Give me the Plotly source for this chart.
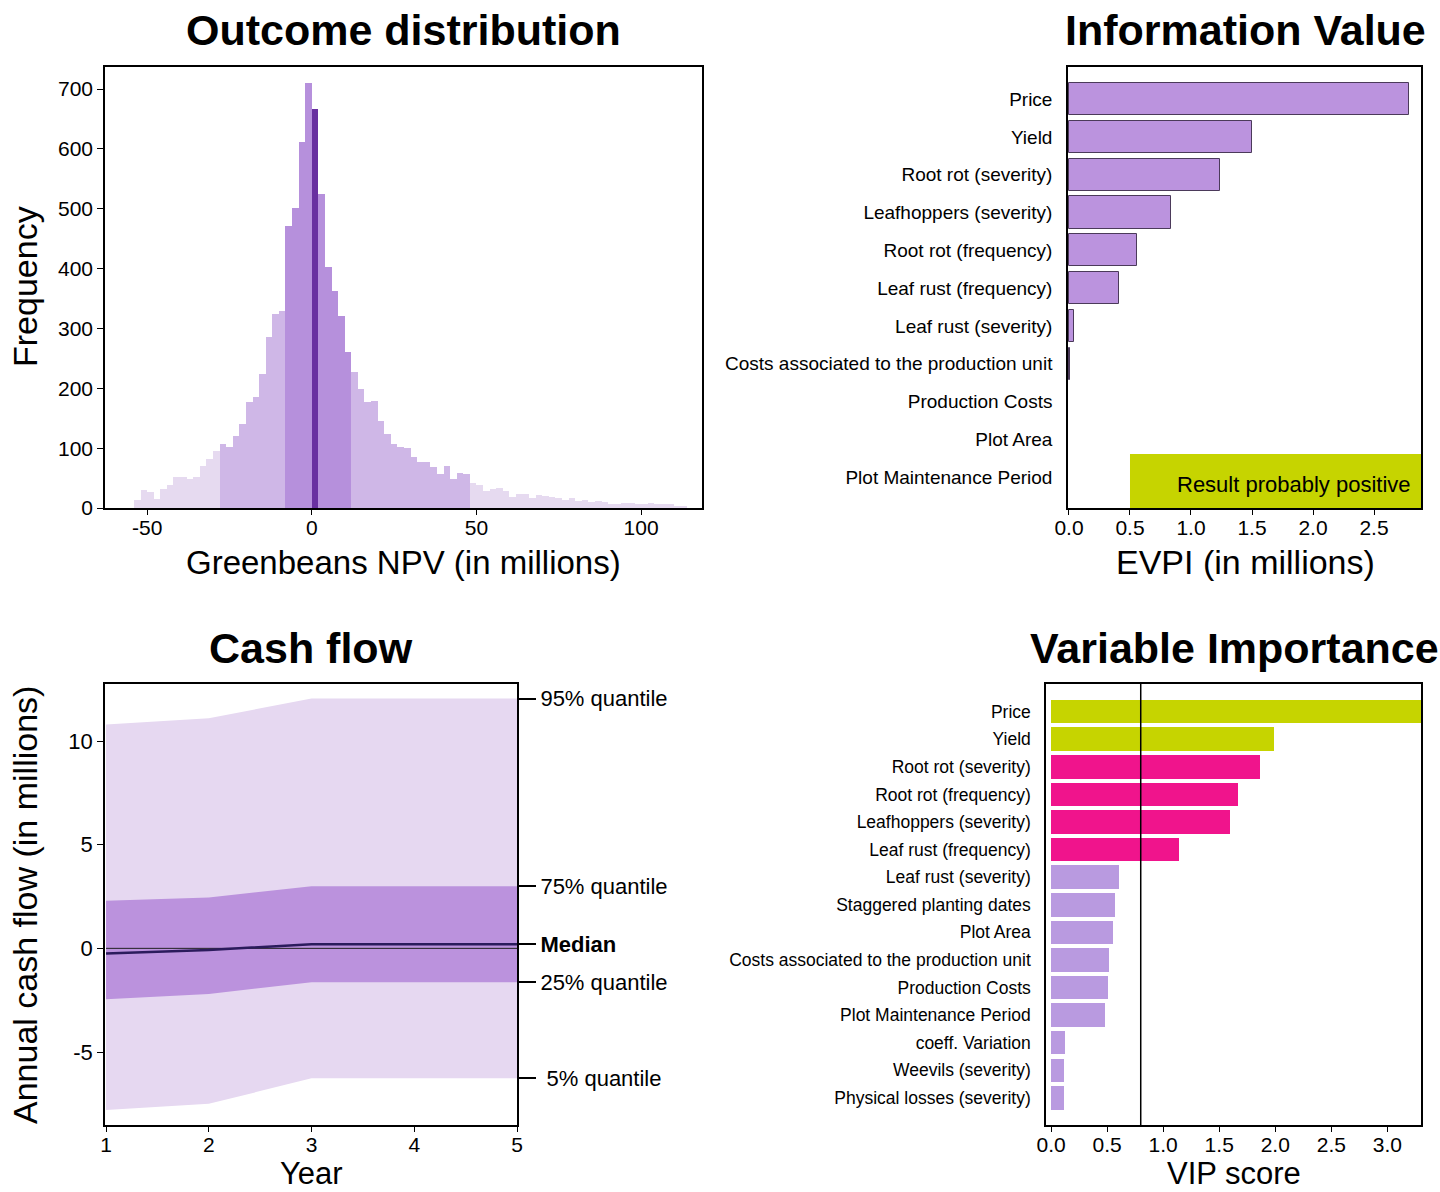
import plotly.graph_objects as go

W, H = 1440, 1192

# ---------------- Outcome distribution (NPV histogram, 2 M bins) ----------------
npv_bin_width = 2
npv_bin_starts = list(range(-54, 114, 2))
npv_counts = [
    13, 30, 27, 15, 32, 38, 52, 52, 48, 52, 70, 82, 96, 107, 102, 121, 140, 177,
    185, 224, 285, 324, 329, 471, 502, 611, 710,
    667, 525, 402, 363, 321, 260, 227, 199, 177, 179, 146, 124, 107, 102, 100, 85,
    77, 77, 68, 57, 70, 49, 59, 57, 41, 39, 29, 31, 33, 29, 18, 24, 24, 16, 21, 20,
    18, 16, 13, 17, 11, 13, 10, 11, 10, 7, 6, 9, 9, 7, 7, 8, 7, 6, 7, 4, 3,
]
npv_q05, npv_q25, npv_median, npv_q75, npv_q95 = -28, -8, 0, 12, 48
npv_ticks = [-50, 0, 50, 100]

# ---------------- Information value (EVPI) ----------------
evpi_labels = [
    "Price", "Yield", "Root rot (severity)", "Leafhoppers (severity)",
    "Root rot (frequency)", "Leaf rust (frequency)", "Leaf rust (severity)",
    "Costs associated to the production unit", "Production Costs", "Plot Area",
    "Plot Maintenance Period",
]
evpi_values = [2.785, 1.50, 1.24, 0.834, 0.555, 0.408, 0.042, 0.008, 0.0, 0.0, 0.0]
evpi_positive_from = 0.5

# ---------------- Cash flow quantiles ----------------
years = [1, 2, 3, 4, 5]
cf_q95 = [10.8, 11.1, 12.05, 12.05, 12.05]
cf_q75 = [2.3, 2.45, 3.0, 3.0, 3.0]
cf_median = [-0.25, -0.08, 0.2, 0.2, 0.2]
cf_q25 = [-2.45, -2.2, -1.63, -1.63, -1.63]
cf_q05 = [-7.8, -7.5, -6.27, -6.27, -6.27]
cf_quantile_names = ["95% quantile", "75% quantile", "<b>Median</b>", "25% quantile", "\u00a05% quantile"]
cf_ticks = [-5, 0, 5, 10]

# ---------------- Variable importance (VIP) ----------------
vip_labels = [
    "Price", "Yield", "Root rot (severity)", "Root rot (frequency)",
    "Leafhoppers (severity)", "Leaf rust (frequency)", "Leaf rust (severity)",
    "Staggered planting dates", "Plot Area", "Costs associated to the production unit",
    "Production Costs", "Plot Maintenance Period", "coeff. Variation",
    "Weevils (severity)", "Physical losses (severity)",
]
vip_values = [3.30, 1.99, 1.86, 1.67, 1.60, 1.145, 0.61, 0.57, 0.55, 0.52, 0.51, 0.48, 0.12, 0.115, 0.115]
vip_direction = ["+", "+", "-", "-", "-", "-", "-", "+", "+", "-", "-", "+", "+", "-", "-"]
vip_threshold = 0.8

# ---------------- styling ----------------
FONT = "Liberation Sans, Arial, Helvetica, sans-serif"
PALE, LIGHT, MED, DARK = "#e6daf0", "#cfb7e7", "#b690dc", "#6930a0"
BAND_OUT, BAND_IN, MEDIAN_LINE = "#e6d8f1", "#bb92dd", "#2b1b5c"
EVPI_FILL, EVPI_EDGE = "#bb93de", "#4b3a5a"
GREEN, MAGENTA, LAVENDER = "#c6d400", "#f0148c", "#b99ae0"


def px_x(p):
    return p / W


def px_y(p):
    return 1 - p / H


def npv_color(left):
    if left == npv_median:
        return DARK
    if npv_q25 <= left < npv_q75:
        return MED
    if npv_q05 <= left < npv_q95:
        return LIGHT
    return PALE


def vip_color(v, d):
    if v < vip_threshold:
        return LAVENDER
    return GREEN if d == "+" else MAGENTA


def hyphen_labels(vals):
    return [str(v).replace("\u2212", "-") for v in vals]


fig = go.Figure()

# Histogram
fig.add_trace(go.Bar(
    x=[s + npv_bin_width / 2 for s in npv_bin_starts], y=npv_counts, width=npv_bin_width,
    marker=dict(color=[npv_color(s) for s in npv_bin_starts], line=dict(width=0)),
    xaxis="x", yaxis="y", showlegend=False,
))

# EVPI bars (no outline on empty bars)
fig.add_trace(go.Bar(
    y=evpi_labels, x=evpi_values, orientation="h", width=0.85,
    marker=dict(color=EVPI_FILL,
                line=dict(color=EVPI_EDGE, width=[1 if v > 0 else 0 for v in evpi_values])),
    xaxis="x2", yaxis="y2", showlegend=False,
))

# Cash flow bands
fig.add_trace(go.Scatter(x=years, y=cf_q05, mode="lines", line=dict(width=0),
                         xaxis="x3", yaxis="y3", showlegend=False, hoverinfo="skip"))
fig.add_trace(go.Scatter(x=years, y=cf_q95, mode="lines", line=dict(width=0), fill="tonexty",
                         fillcolor=BAND_OUT, xaxis="x3", yaxis="y3", showlegend=False))
fig.add_trace(go.Scatter(x=years, y=cf_q25, mode="lines", line=dict(width=0),
                         xaxis="x3", yaxis="y3", showlegend=False, hoverinfo="skip"))
fig.add_trace(go.Scatter(x=years, y=cf_q75, mode="lines", line=dict(width=0), fill="tonexty",
                         fillcolor=BAND_IN, xaxis="x3", yaxis="y3", showlegend=False))
fig.add_trace(go.Scatter(x=[years[0], years[-1]], y=[0, 0], mode="lines",
                         line=dict(color="#222222", width=1), xaxis="x3", yaxis="y3",
                         showlegend=False, hoverinfo="skip"))
fig.add_trace(go.Scatter(x=years, y=cf_median, mode="lines", line=dict(color=MEDIAN_LINE, width=2.5),
                         xaxis="x3", yaxis="y3", showlegend=False))
# invisible trace so the right-hand quantile axis is drawn
fig.add_trace(go.Scatter(x=[years[-1]], y=[cf_median[-1]], mode="markers", marker=dict(opacity=0),
                         xaxis="x3", yaxis="y5", showlegend=False, hoverinfo="skip"))

# VIP bars
fig.add_trace(go.Bar(
    y=vip_labels, x=vip_values, orientation="h", width=0.85,
    marker=dict(color=[vip_color(v, d) for v, d in zip(vip_values, vip_direction)], line=dict(width=0)),
    xaxis="x4", yaxis="y4", showlegend=False,
))

axis_common = dict(showline=True, mirror=True, linecolor="black", linewidth=1.5,
                   ticks="outside", ticklen=6, tickcolor="black", tickwidth=1.2,
                   showgrid=False, zeroline=False, automargin=False,
                   tickfont=dict(family=FONT, size=21, color="black"))
x_common = {**axis_common, "ticklen": 5, "ticklabelstandoff": -5}

# panel geometry (pixels)
p1 = dict(x0=105, x1=702, y0=67, y1=508)
p2 = dict(x0=1068, x1=1421, y0=67, y1=508)
p3 = dict(x0=105, x1=517, y0=684, y1=1125)
p4 = dict(x0=1046, x1=1421, y0=684, y1=1125)


def dom(p):
    return [px_x(p["x0"]), px_x(p["x1"])], [px_y(p["y1"]), px_y(p["y0"])]


d1x, d1y = dom(p1)
d2x, d2y = dom(p2)
d3x, d3y = dom(p3)
d4x, d4y = dom(p4)

fig.update_layout(
    width=W, height=H, margin=dict(l=0, r=0, t=0, b=0, autoexpand=False),
    paper_bgcolor="white", plot_bgcolor="white",
    font=dict(family=FONT, color="black"),
    showlegend=False, bargap=0,
    xaxis=dict(domain=d1x, anchor="y", range=[-62.8, 118.5], tickvals=npv_ticks,
               ticktext=hyphen_labels(npv_ticks), **x_common),
    yaxis=dict(domain=d1y, anchor="x", range=[0, 737], tickvals=list(range(0, 701, 100)), **axis_common),
    xaxis2=dict(domain=d2x, anchor="y2", range=[-0.008, 2.885], tickvals=[0, 0.5, 1, 1.5, 2, 2.5],
                tickformat=".1f", **x_common),
    yaxis2=dict(domain=d2y, anchor="x2", type="category", categoryorder="array",
                categoryarray=list(reversed(evpi_labels)), range=[-0.82, 10.85],
                **{**axis_common, "ticks": "", "tickfont": dict(family=FONT, size=19, color="black")},
                ticklabelstandoff=10),
    xaxis3=dict(domain=d3x, anchor="y3", range=[0.99, 5.0], tickvals=years, **x_common),
    yaxis3=dict(domain=d3y, anchor="x3", range=[-8.52, 12.75], tickvals=cf_ticks,
                ticktext=hyphen_labels(cf_ticks),
                **{**axis_common, "tickfont": dict(family=FONT, size=22, color="black")}),
    yaxis5=dict(domain=d3y, anchor="x3", overlaying="y3", side="right", range=[-8.52, 12.75],
                tickmode="array",
                tickvals=[cf_q95[-1], cf_q75[-1], cf_median[-1], cf_q25[-1], cf_q05[-1]],
                ticktext=cf_quantile_names, ticks="outside", ticklen=18, tickcolor="black",
                tickwidth=1.5, showline=False, showgrid=False, zeroline=False, automargin=False,
                tickfont=dict(family=FONT, size=22, color="black")),
    xaxis4=dict(domain=d4x, anchor="y4", range=[-0.045, 3.30], tickvals=[0, 0.5, 1, 1.5, 2, 2.5, 3],
                tickformat=".1f", **x_common),
    yaxis4=dict(domain=d4y, anchor="x4", type="category", categoryorder="array",
                categoryarray=list(reversed(vip_labels)), range=[-0.98, 15.0],
                **{**axis_common, "ticks": "", "tickfont": dict(family=FONT, size=17.5, color="black")},
                ticklabelstandoff=10),
)

# "Result probably positive" region in the EVPI panel
fig.add_shape(type="rect", xref="x2", yref="y2 domain", x0=evpi_positive_from, x1=2.885,
              y0=0, y1=54 / 441, fillcolor=GREEN, line=dict(width=0), layer="below")
fig.add_annotation(xref="x2 domain", yref="y2 domain", x=0.977, y=24 / 441, xanchor="right",
                   yanchor="middle", text="Result probably positive", showarrow=False,
                   font=dict(family=FONT, size=22, color="black"))

# VIP threshold line
fig.add_shape(type="line", xref="x4", yref="y4 domain", x0=vip_threshold, x1=vip_threshold,
              y0=0, y1=1, line=dict(color="black", width=1.5), layer="above")

# Panel titles and axis titles
titles = [
    ("<b>Outcome distribution</b>", 403, 30, 43, 0),
    ("<b>Information Value</b>", 1245, 30, 43, 0),
    ("<b>Cash flow</b>", 311, 648, 43, 0),
    ("<b>Variable Importance</b>", 1234, 648, 43, 0),
    ("Greenbeans NPV (in millions)", 403, 562, 33, 0),
    ("EVPI (in millions)", 1245, 562, 34, 0),
    ("Year", 311, 1173, 31, 0),
    ("VIP score", 1234, 1173, 31, 0),
    ("Frequency", 25, 287, 34, -90),
    ("Annual cash flow (in millions)", 25, 905, 34, -90),
]
for text, x, y, size, angle in titles:
    fig.add_annotation(xref="paper", yref="paper", x=px_x(x), y=px_y(y), xanchor="center",
                       yanchor="middle", text=text, showarrow=False, textangle=angle,
                       font=dict(family=FONT, size=size, color="black"))

fig.write_html("out.html")
